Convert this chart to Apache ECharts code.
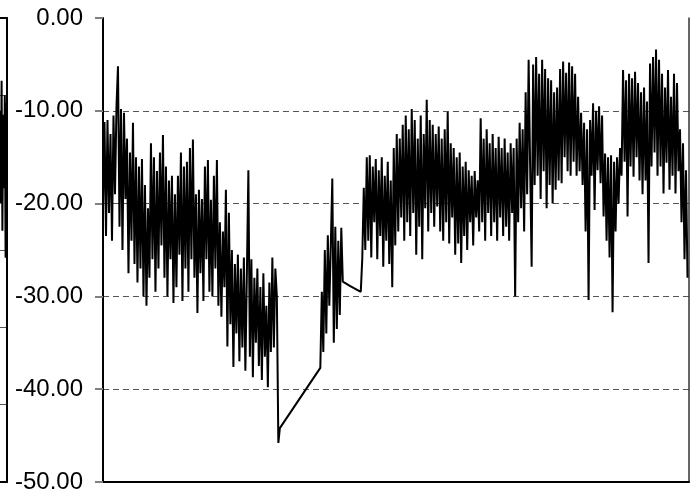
<!DOCTYPE html>
<html>
<head>
<meta charset="utf-8">
<script src="https://cdn.jsdelivr.net/npm/echarts@6/dist/echarts.min.js"></script>
<style>
  html, body { margin: 0; padding: 0; background: #fff; }
  #chart { width: 698px; height: 494px; }
</style>
</head>
<body>
<div id="chart"></div>
<script>
// Daily readings, first run (day 0 onward)
const run1Start = 0;
const run1 = [
  -20.5,-11.2,-23.5,-11.0,-21.0,-12.5,-24.0,-10.5,-19.0,-9.5,
  -5.2,-22.5,-9.8,-25.0,-10.2,-19.5,-13.0,-27.5,-14.5,-24.0,
  -11.3,-26.5,-15.0,-28.5,-16.0,-27.0,-15.2,-30.0,-18.0,-31.0,
  -20.5,-28.0,-13.5,-26.0,-15.0,-29.5,-16.5,-27.0,-14.5,-24.5,
  -12.6,-28.0,-16.0,-30.0,-17.5,-26.0,-17.0,-30.7,-19.0,-29.0,
  -17.0,-25.5,-14.5,-30.5,-16.0,-27.0,-15.5,-29.5,-14.0,-26.0,
  -13.1,-28.0,-19.0,-31.8,-18.5,-27.5,-19.5,-30.5,-16.0,-26.0,
  -15.3,-29.5,-19.6,-30.0,-17.0,-27.0,-15.3,-31.0,-22.0,-32.2,
  -23.0,-29.0,-18.5,-35.4,-21.0,-33.0,-25.0,-37.6,-26.5,-34.0,
  -25.5,-37.0,-27.0,-35.5,-25.8,-38.0,-27.5,-16.4,-36.5,-26.0,
  -38.7,-28.0,-35.0,-27.0,-37.5,-29.0,-39.0,-27.5,-36.5,-31.0,
  -39.8,-28.5,-36.0,-25.8,-35.5,-27.0,-30.0,-45.8,-44.2
];

// Second run after the gap
const run2Start = 145;
const run2 = [
  -37.7,-29.5,-36.0,-25.0,-34.0,-23.4,-31.0,-24.5,-17.3,-35.0,
  -22.5,-33.5,-24.0,-32.0,-22.6,-28.4
];

// Isolated readings between the second and third runs
const sparseDays = [165, 172];
const sparseValues = [-28.9, -29.5];

// Third run, to the end of the record
const run3Start = 173;
const run3 = [
  -25.9,-18.3,-25.0,-15.0,-24.0,-14.8,-25.8,-16.0,-22.0,-15.2,
  -26.0,-16.4,-23.5,-15.0,-26.8,-17.0,-24.0,-15.5,-26.5,-17.5,
  -29.0,-14.0,-24.5,-12.5,-23.0,-13.0,-21.5,-11.5,-24.0,-10.5,
  -22.0,-12.0,-23.5,-9.8,-21.0,-11.0,-25.5,-13.0,-22.5,-10.5,
  -26.0,-12.5,-20.5,-8.8,-23.0,-11.0,-21.0,-11.5,-22.5,-12.5,
  -20.3,-11.7,-23.0,-13.0,-24.0,-12.0,-22.0,-10.1,-24.3,-13.5,
  -21.5,-14.0,-25.5,-15.0,-24.3,-14.5,-26.4,-16.0,-23.5,-15.5,
  -25.0,-16.4,-22.0,-17.0,-24.5,-16.5,-21.5,-17.5,-23.0,-10.8,
  -22.0,-13.0,-24.0,-12.0,-21.0,-13.5,-23.5,-12.5,-22.0,-14.0,
  -24.0,-12.8,-21.5,-14.0,-23.5,-13.0,-22.5,-14.5,-24.0,-13.5,
  -21.0,-14.0,-30.0,-13.0,-22.0,-11.3,-20.5,-12.0,-23.0,-8.0,
  -19.0,-4.5,-16.0,-26.8,-5.0,-18.0,-4.2,-17.0,-6.0,-19.5,
  -4.5,-16.5,-5.5,-20.5,-6.5,-18.0,-6.7,-20.0,-8.0,-18.5,
  -7.5,-17.5,-5.5,-17.8,-4.7,-15.0,-5.9,-16.5,-4.8,-17.0,
  -5.2,-15.5,-6.0,-17.0,-8.5,-16.5,-10.2,-18.0,-11.3,-23.0,
  -12.0,-30.4,-11.0,-17.0,-9.2,-20.7,-10.0,-16.4,-9.5,-17.8,
  -10.5,-21.4,-14.6,-24.0,-15.0,-25.8,-14.8,-31.7,-15.5,-23.0,
  -15.0,-20.0,-14.0,-17.0,-5.6,-15.5,-6.7,-21.4,-6.0,-16.0,
  -6.5,-17.1,-5.8,-15.0,-7.0,-17.5,-8.0,-19.0,-7.5,-17.5,
  -9.0,-26.4,-4.9,-16.0,-4.2,-14.5,-3.4,-17.0,-4.5,-16.0,
  -6.0,-18.9,-7.5,-15.6,-5.6,-18.5,-8.5,-17.0,-6.0,-18.9,
  -7.0,-16.5,-12.0,-22.0,-13.5,-26.0,-16.4,-28.0
];
const lastDay = 391;

// Tail end of the neighbouring panel on the left
const leftX = [0, 0.8, 1.6, 2.4, 3.2, 4.0, 4.8, 5.6, 6.4];
const leftValues = [-12, -24, -8.1, -27.5, -12.5, -22, -10, -31, -11];

// Y-axis tick values
const yTicks = [0, -10, -20, -30, -40, -50];

function runToPairs(start, values) {
  return values.map((v, i) => [start + i, v]);
}

const mainData = []
  .concat(runToPairs(run1Start, run1))
  .concat(runToPairs(run2Start, run2))
  .concat(sparseDays.map((d, i) => [d, sparseValues[i]]))
  .concat(runToPairs(run3Start, run3));

const leftData = leftX.map((x, i) => [x, leftValues[i]]);

const chart = echarts.init(document.getElementById('chart'), null, { renderer: 'canvas' });

const dashed = { type: [6, 4], color: '#555', width: 1 };

chart.setOption({
  animation: false,
  backgroundColor: '#fff',
  grid: [
    { left: 103, top: 18, right: 9, bottom: 12 },
    { left: 0, top: 18, width: 7, bottom: 12 }
  ],
  xAxis: [
    {
      gridIndex: 0, type: 'value', min: 0, max: lastDay,
      axisLine: { show: true, onZero: false, lineStyle: { color: '#000', width: 2 } },
      axisTick: { show: false }, axisLabel: { show: false }, splitLine: { show: false }
    },
    {
      gridIndex: 1, type: 'value', min: 0, max: 7,
      axisLine: { show: true, onZero: false, lineStyle: { color: '#000', width: 2 } },
      axisTick: { show: false }, axisLabel: { show: false }, splitLine: { show: false }
    },
    {
      gridIndex: 1, type: 'value', min: 0, max: 7, position: 'top',
      axisLine: { show: true, onZero: false, lineStyle: { color: '#000', width: 2 } },
      axisTick: { show: false }, axisLabel: { show: false }, splitLine: { show: false }
    }
  ],
  yAxis: [
    {
      gridIndex: 0, type: 'value',
      min: yTicks[yTicks.length - 1], max: yTicks[0], interval: 10,
      axisLine: { show: true, onZero: false, lineStyle: { color: '#000', width: 2 } },
      axisTick: { show: true, length: 8, lineStyle: { color: '#808080', width: 2 } },
      axisLabel: {
        formatter: v => v.toFixed(2),
        fontFamily: 'Liberation Sans', fontSize: 24, color: '#000', margin: 20
      },
      splitLine: { show: true, showMaxLine: false, showMinLine: false, lineStyle: dashed }
    },
    {
      gridIndex: 0, type: 'value', position: 'right',
      min: yTicks[yTicks.length - 1], max: yTicks[0], interval: 10,
      axisLine: { show: true, onZero: false, lineStyle: { color: '#333', width: 1.5 } },
      axisTick: { show: false }, axisLabel: { show: false }, splitLine: { show: false }
    },
    {
      gridIndex: 1, type: 'value', position: 'right', min: -60, max: 0, interval: 10,
      axisLine: { show: true, onZero: false, lineStyle: { color: '#000', width: 2 } },
      axisTick: { show: false }, axisLabel: { show: false },
      splitLine: { show: true, showMaxLine: false, showMinLine: false, lineStyle: dashed }
    }
  ],
  series: [
    {
      type: 'line', xAxisIndex: 0, yAxisIndex: 0, data: mainData,
      symbol: 'none', sampling: null,
      lineStyle: { color: '#000', width: 2 }
    },
    {
      type: 'line', xAxisIndex: 1, yAxisIndex: 2, data: leftData,
      symbol: 'none',
      lineStyle: { color: '#000', width: 2 }
    }
  ]
});
</script>
</body>
</html>
